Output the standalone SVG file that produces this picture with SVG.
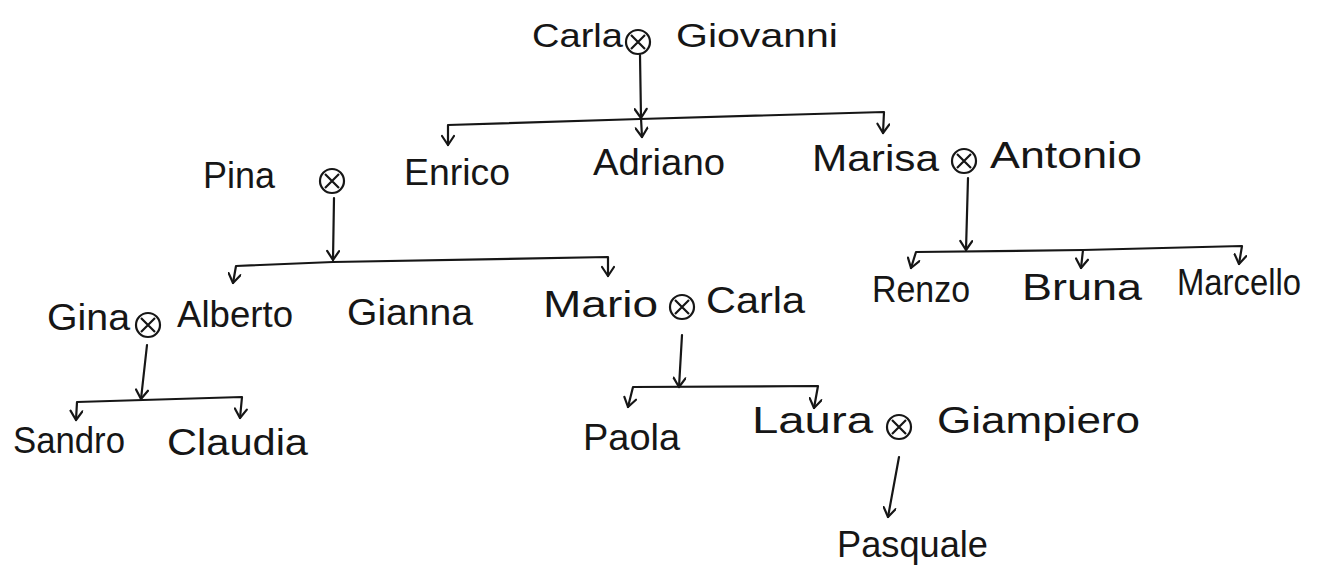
<svg xmlns="http://www.w3.org/2000/svg" xmlns:xlink="http://www.w3.org/1999/xlink" width="1322" height="570" viewBox="0 0 1322 570">
<style>
.t{font-family:"Liberation Sans","DejaVu Sans",sans-serif;font-size:36px;fill:#161616}
.top{font-size:33px}
.ln{fill:none;stroke:#161616;stroke-width:2.2;stroke-linecap:round;stroke-linejoin:round}
.u circle,.u path{fill:none;stroke:#161616;stroke-width:2.2}
</style>
<defs>
<marker id="ah" viewBox="0 0 14 14" refX="12" refY="7" markerWidth="14" markerHeight="14" markerUnits="userSpaceOnUse" orient="auto-start-reverse">
<path d="M3 1 L12 7 L3 13" fill="none" stroke="#161616" stroke-width="2.2" stroke-linecap="round" stroke-linejoin="round"/>
</marker>
<g id="mx" class="u"><circle r="12"/><path d="M-7,-7 L7,7 M7,-7 L-7,7"/></g>
</defs>
<rect width="1322" height="570" fill="#ffffff"/>

<g id="connectors">
<path class="ln" d="M640,55 L641,118 L642,137" marker-mid="url(#ah)" marker-end="url(#ah)"/>
<path class="ln" d="M448,145 L448,125 L640,119 L884,112 L883,133" marker-start="url(#ah)" marker-end="url(#ah)"/>
<path class="ln" d="M334,198 L333,260" marker-end="url(#ah)"/>
<path class="ln" d="M233,283 L236,266 L333,262 L608,257 L608,276" marker-start="url(#ah)" marker-end="url(#ah)"/>
<path class="ln" d="M968,178 L966,250" marker-end="url(#ah)"/>
<path class="ln" d="M911,268 L916,252 L1083,250 L1242,246 L1239,264" marker-start="url(#ah)" marker-end="url(#ah)"/>
<path class="ln" d="M1083,250 L1081,268" marker-end="url(#ah)"/>
<path class="ln" d="M147,345 L141,399" marker-end="url(#ah)"/>
<path class="ln" d="M76,420 L77,402 L242,397 L240,418" marker-start="url(#ah)" marker-end="url(#ah)"/>
<path class="ln" d="M682,335 L679,387" marker-end="url(#ah)"/>
<path class="ln" d="M628,407 L633,387 L818,386 L814,408" marker-start="url(#ah)" marker-end="url(#ah)"/>
<path class="ln" d="M899,457 L888,517" marker-end="url(#ah)"/>
</g>

<g id="n-carla1"><text class="t top" x="532" y="47" textLength="91" lengthAdjust="spacingAndGlyphs">Carla</text></g>
<g id="u-carla-giovanni"><use xlink:href="#mx" x="638" y="42"/></g>
<g id="n-giovanni"><text class="t top" x="676" y="47" textLength="162" lengthAdjust="spacingAndGlyphs">Giovanni</text></g>

<g id="n-pina"><text class="t" x="203" y="188" textLength="72" lengthAdjust="spacingAndGlyphs">Pina</text></g>
<g id="u-pina"><use xlink:href="#mx" x="332" y="181"/></g>
<g id="n-enrico"><text class="t" x="404" y="185" textLength="106" lengthAdjust="spacingAndGlyphs">Enrico</text></g>
<g id="n-adriano"><text class="t" x="593" y="175" textLength="132" lengthAdjust="spacingAndGlyphs">Adriano</text></g>
<g id="n-marisa"><text class="t" x="812" y="171" textLength="127" lengthAdjust="spacingAndGlyphs">Marisa</text></g>
<g id="u-marisa-antonio"><use xlink:href="#mx" x="964" y="161"/></g>
<g id="n-antonio"><text class="t" x="990" y="168" textLength="152" lengthAdjust="spacingAndGlyphs">Antonio</text></g>

<g id="n-gina"><text class="t" x="47" y="330" textLength="83" lengthAdjust="spacingAndGlyphs">Gina</text></g>
<g id="u-gina-alberto"><use xlink:href="#mx" x="148" y="325"/></g>
<g id="n-alberto"><text class="t" x="177" y="327" textLength="116" lengthAdjust="spacingAndGlyphs">Alberto</text></g>
<g id="n-gianna"><text class="t" x="347" y="325" textLength="126" lengthAdjust="spacingAndGlyphs">Gianna</text></g>
<g id="n-mario"><text class="t" x="543" y="317" textLength="115" lengthAdjust="spacingAndGlyphs">Mario</text></g>
<g id="u-mario-carla"><use xlink:href="#mx" x="682" y="307"/></g>
<g id="n-carla2"><text class="t" x="706" y="313" textLength="99" lengthAdjust="spacingAndGlyphs">Carla</text></g>
<g id="n-renzo"><text class="t" x="872" y="302" textLength="98" lengthAdjust="spacingAndGlyphs">Renzo</text></g>
<g id="n-bruna"><text class="t" x="1022" y="300" textLength="120" lengthAdjust="spacingAndGlyphs">Bruna</text></g>
<g id="n-marcello"><text class="t" x="1177" y="295" textLength="124" lengthAdjust="spacingAndGlyphs">Marcello</text></g>

<g id="n-sandro"><text class="t" x="13" y="453" textLength="112" lengthAdjust="spacingAndGlyphs">Sandro</text></g>
<g id="n-claudia"><text class="t" x="167" y="455" textLength="141" lengthAdjust="spacingAndGlyphs">Claudia</text></g>
<g id="n-paola"><text class="t" x="583" y="450" textLength="97" lengthAdjust="spacingAndGlyphs">Paola</text></g>
<g id="n-laura"><text class="t" x="752" y="433" textLength="121" lengthAdjust="spacingAndGlyphs">Laura</text></g>
<g id="u-laura-giampiero"><use xlink:href="#mx" x="899" y="427"/></g>
<g id="n-giampiero"><text class="t" x="937" y="433" textLength="203" lengthAdjust="spacingAndGlyphs">Giampiero</text></g>

<g id="n-pasquale"><text class="t" x="837" y="557" textLength="151" lengthAdjust="spacingAndGlyphs">Pasquale</text></g>
</svg>
